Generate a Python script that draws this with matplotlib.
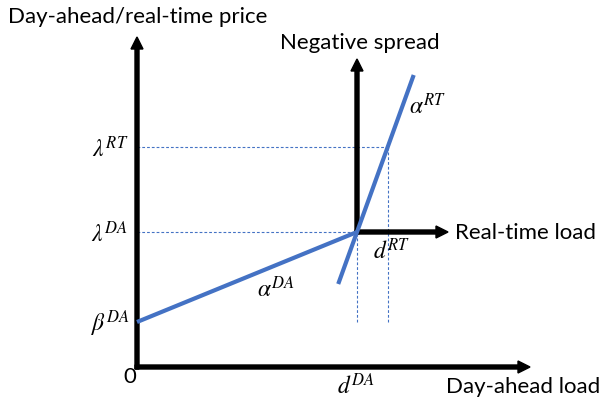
import matplotlib
matplotlib.use("Agg")
import matplotlib.pyplot as plt
import numpy as np

plt.rcParams['mathtext.fontset'] = 'stix'
plt.rcParams['font.family'] = ['Lato', 'DejaVu Sans']

# Key quantities (diagram units)
beta_DA = 45
lambda_DA = 135
lambda_RT = 220
d_DA = 220
d_RT = 250.7
rt_line_y = [83, 292]          # extent of real-time curve (price levels)
main_axis_ends = [393, 330]     # x-axis end, y-axis end
sub_axis_ends = [311, 308]      # secondary axes ends

BLUE = '#4472C4'

fig = plt.figure(figsize=(6.02, 4.02), dpi=100)
ax = fig.add_axes([0, 0, 1, 1])
ax.set_xlim(-137, 465)
ax.set_ylim(-34, 368)
ax.axis('off')

alpha_DA = (lambda_DA - beta_DA) / d_DA
alpha_RT = (lambda_RT - lambda_DA) / (d_RT - d_DA)

# dotted guide lines
dot = dict(color=BLUE, lw=0.8, ls=(0, (2.5, 1.8)))
ax.plot([0, d_RT], [lambda_RT, lambda_RT], **dot)
ax.plot([0, d_DA], [lambda_DA, lambda_DA], **dot)
ax.plot([d_DA, d_DA], [beta_DA, lambda_DA], **dot)
ax.plot([d_RT, d_RT], [beta_DA, lambda_RT], **dot)

# main axes
aw = dict(width=4, head_width=12, head_length=12, length_includes_head=True,
          color='black', zorder=3)
ax.arrow(-2, 0, main_axis_ends[0] + 2, 0, **aw)
ax.arrow(0, -2, 0, main_axis_ends[1] + 2, **aw)
# secondary axes
ax.arrow(d_DA - 2, lambda_DA, sub_axis_ends[0] - d_DA + 2, 0, **aw)
ax.arrow(d_DA, lambda_DA - 2, 0, sub_axis_ends[1] - lambda_DA + 2, **aw)

# curves
xs = np.array([0, d_DA])
ax.plot(xs, beta_DA + alpha_DA * xs, color=BLUE, lw=3.0, solid_capstyle='butt', zorder=4)
ys = np.array(rt_line_y)
ax.plot(d_DA + (ys - lambda_DA) / alpha_RT, ys, color=BLUE, lw=3.0,
        solid_capstyle='butt', zorder=4)

# texts
tk = dict(fontsize=16, color='black')
ax.text(-129, 351, 'Day-ahead/real-time price', ha='left', va='center', **tk)
ax.text(143, 325, 'Negative spread', ha='left', va='center', **tk)
ax.text(318, 135, 'Real-time load', ha='left', va='center', **tk)
ax.text(463, -19, 'Day-ahead load', ha='right', va='center', **tk)
ax.text(-7, -9, '0', ha='center', va='center', **tk)

mk = dict(fontsize=17, color='black')
ax.text(-9, lambda_RT, r'$\lambda^{RT}$', ha='right', va='center', **mk)
ax.text(-9, lambda_DA, r'$\lambda^{DA}$', ha='right', va='center', **mk)
ax.text(-7, beta_DA, r'$\beta^{DA}$', ha='right', va='center', **mk)
ax.text(139, 80, r'$\alpha^{DA}$', ha='center', va='center', **mk)
ax.text(291, 263, r'$\alpha^{RT}$', ha='center', va='center', **mk)
ax.text(255, 118, r'$d^{RT}$', ha='center', va='center', **mk)
ax.text(219, -17, r'$d^{DA}$', ha='center', va='center', **mk)

fig.savefig('out.png', dpi=100)
